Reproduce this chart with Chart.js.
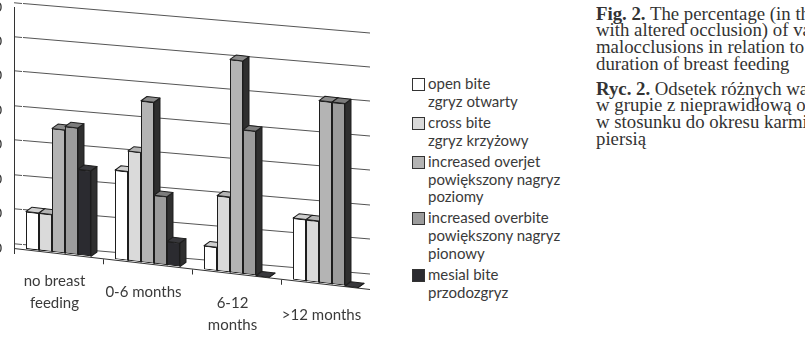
<!DOCTYPE html>
<html><head><meta charset="utf-8">
<script src="https://cdn.jsdelivr.net/npm/chart.js@4.4.1/dist/chart.umd.min.js"></script>
<style>
html,body{margin:0;padding:0;width:805px;height:346px;overflow:hidden;background:#fff;}
#wrap{position:absolute;left:-26px;top:0;width:396px;height:346px;}
#legend{position:absolute;left:412px;top:75px;font-family:Lato,sans-serif;font-size:15px;line-height:17.7px;color:#3a3a3a;}
.item{position:relative;padding-left:16px;margin-bottom:3.5px;white-space:nowrap;}
.box{position:absolute;left:0;top:3px;width:11px;height:11px;border:1px solid #333;}
#caption{position:absolute;left:596px;top:5.5px;font-family:"Liberation Serif",serif;font-size:18.8px;line-height:16.7px;color:#333;white-space:nowrap;}
#caption p{margin:0 0 8.3px 0;}
</style></head><body>
<div id="wrap"><canvas id="c"></canvas></div>
<div id="legend"></div>
<div id="caption"></div>
<script>
// ---- data ----
const categories = [["no breast", "feeding"], "0-6 months", ["", "6-12", "months"], ">12 months"];
const seriesNames = [
  ["open bite", "zgryz otwarty"],
  ["cross bite", "zgryz krzyżowy"],
  ["increased overjet", "powiększony nagryz", "poziomy"],
  ["increased overbite", "powiększony nagryz", "pionowy"],
  ["mesial bite", "przodozgryz"]
];
const openBite   = [11, 26, 7, 18];
const crossBite  = [11, 32, 22, 18];
const overjet    = [36, 47, 62, 53];
const overbite   = [37, 20, 42, 53];
const mesialBite = [25, 7, 0, 0];
const yTicks = [0, 10, 20, 30, 40, 50, 60, 70];
const captionEn = ["The percentage (in the group", "with altered occlusion) of various", "malocclusions in relation to the", "duration of breast feeding"];
const captionPl = ["Odsetek różnych wad zgryzu", "w grupie z nieprawidłową okluzją", "w stosunku do okresu karmienia", "piersią"];

// ---- style ----
const fills = ['#ffffff', '#dadada', '#b4b4b4', '#9c9c9c', '#2b2b30'];
const tops  = ['#cfcfcf', '#b4b4b4', '#8c8c8c', '#7c7c7c', '#38383c'];
const sideShade = '#2f2f2f';
const labelLineHeights = [22, 44, 22, 90];
const DX = 6, DY = 5;
const SHEAR_BAR = 0.115, SHEAR_GRID = 0.085, GRID_LIFT = 4, GRID_SHIFT = 8;

function shear(ctx, chart, k, dy, dx) {
  const xl = chart.chartArea.left;
  ctx.transform(1, k, 0, 1, dx || 0, -k * xl - dy);
}
function wrap(scale, name, k, dy, dx) {
  const orig = scale[name];
  scale[name] = function (...args) {
    const ctx = this.ctx; ctx.save(); shear(ctx, this.chart, k, dy, dx);
    orig.apply(this, args); ctx.restore();
  };
}
function drawFaces(ctx, el, i) {
  const {x, y, base, width} = el.getProps(['x', 'y', 'base', 'width'], true);
  const l = x - width / 2, r = x + width / 2;
  ctx.save();
  ctx.lineWidth = 1; ctx.strokeStyle = '#1e1e1e'; ctx.lineJoin = 'round';
  ctx.fillStyle = sideShade;
  ctx.beginPath(); ctx.moveTo(r, y); ctx.lineTo(r + DX, y - DY); ctx.lineTo(r + DX, base - DY); ctx.lineTo(r, base); ctx.closePath(); ctx.fill(); ctx.stroke();
  ctx.fillStyle = tops[i];
  ctx.beginPath(); ctx.moveTo(l, y); ctx.lineTo(l + DX, y - DY); ctx.lineTo(r + DX, y - DY); ctx.lineTo(r, y); ctx.closePath(); ctx.fill(); ctx.stroke();
  ctx.restore();
}
const perspective = {
  id: 'perspective',
  beforeDraw(chart) {
    const xs = chart.scales.x, ys = chart.scales.y;
    if (!xs._patched) { wrap(xs, 'drawGrid', SHEAR_BAR, 0, 0); wrap(xs, 'drawBorder', SHEAR_BAR, 0, 0); xs._patched = true; }
    if (!ys._patched) { wrap(ys, 'drawGrid', SHEAR_GRID, GRID_LIFT, GRID_SHIFT); ys._patched = true; }
  },
  beforeDatasetsDraw(chart) { chart.ctx.save(); shear(chart.ctx, chart, SHEAR_BAR, 0, 0); },
  afterDatasetsDraw(chart) {
    const ctx = chart.ctx;
    for (let i = 0; i < chart.data.datasets.length; i++) {
      chart.getDatasetMeta(i).data.forEach(el => { el.draw(ctx); drawFaces(ctx, el, i); });
    }
    ctx.restore();
  }
};

const series = [openBite, crossBite, overjet, overbite, mesialBite];
new Chart(document.getElementById('c'), {
  type: 'bar',
  data: {
    labels: categories,
    datasets: series.map((d, i) => ({
      label: seriesNames[i].join(' '),
      data: d,
      backgroundColor: fills[i],
      borderColor: '#1e1e1e',
      borderWidth: 1,
      borderSkipped: false,
      clip: false
    }))
  },
  options: {
    responsive: true, maintainAspectRatio: false, animation: false,
    layout: {padding: {top: 7, left: 0, right: 0, bottom: 0}},
    datasets: {bar: {categoryPercentage: 0.73, barPercentage: 1}},
    plugins: {legend: {display: false}, tooltip: {enabled: false}},
    scales: {
      x: {
        grid: {display: true, drawOnChartArea: false, drawTicks: true, tickLength: 6, color: '#333'},
        border: {display: true, color: '#333', width: 1},
        ticks: {
          autoSkip: false, maxRotation: 0, minRotation: 0, padding: 16, labelOffset: -4, color: '#3a3a3a',
          font: (c) => ({family: 'Lato', size: 15, lineHeight: labelLineHeights[c.index ?? 0] + 'px'})
        },
        afterFit: (s) => { s.height = 98; s.paddingLeft = 0; s.paddingRight = 0; }
      },
      y: {
        min: yTicks[0], max: yTicks[yTicks.length - 1],
        afterBuildTicks: (s) => { s.ticks = yTicks.map(v => ({value: v})); },
        grid: {color: '#555', tickLength: 8, drawTicks: true},
        border: {display: true, color: '#333'},
        ticks: {color: '#333', font: {family: 'Lato', size: 14}, padding: 4},
        afterFit: (s) => { s.width = 40; s.paddingTop = 0; s.paddingBottom = 0; }
      }
    }
  },
  plugins: [perspective]
});

// legend
const lg = document.getElementById('legend');
seriesNames.forEach((lines, i) => {
  const it = document.createElement('div'); it.className = 'item';
  const b = document.createElement('span'); b.className = 'box'; b.style.background = fills[i];
  it.appendChild(b);
  lines.forEach((t, j) => { if (j) it.appendChild(document.createElement('br')); it.appendChild(document.createTextNode(t)); });
  lg.appendChild(it);
});
// caption
const cap = document.getElementById('caption');
[['Fig. 2.', captionEn], ['Ryc. 2.', captionPl]].forEach(([head, lines]) => {
  const p = document.createElement('p');
  const bb = document.createElement('b'); bb.textContent = head; p.appendChild(bb);
  lines.forEach((t, j) => { if (j) p.appendChild(document.createElement('br')); p.appendChild(document.createTextNode(j ? t : ' ' + t)); });
  cap.appendChild(p);
});
</script>
</body></html>
